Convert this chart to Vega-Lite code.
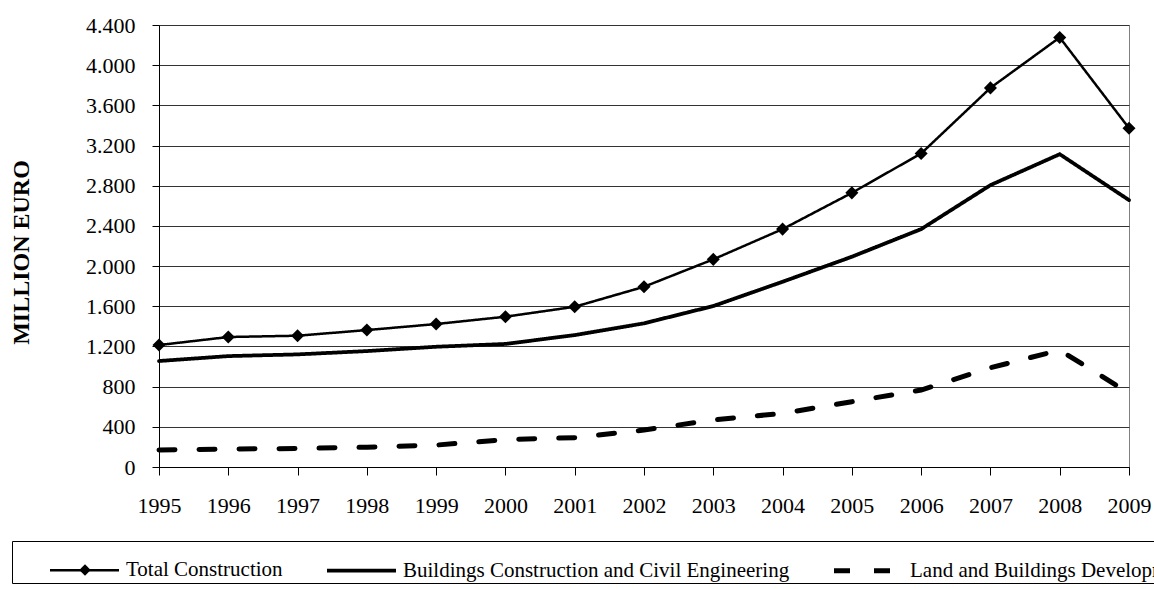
{
  "$schema": "https://vega.github.io/schema/vega-lite/v6.json",
  "width": 970,
  "height": 442,
  "autosize": "none",
  "padding": {"left": 159, "top": 25, "right": 25, "bottom": 122},
  "background": "white",
  "config": {
    "font": "Liberation Serif",
    "view": {"stroke": "#808080", "strokeWidth": 1}
  },
  "data": {
    "values": [
      {"year": "1995", "series": "Total Construction", "value": 1214},
      {"year": "1996", "series": "Total Construction", "value": 1294},
      {"year": "1997", "series": "Total Construction", "value": 1307},
      {"year": "1998", "series": "Total Construction", "value": 1363},
      {"year": "1999", "series": "Total Construction", "value": 1423},
      {"year": "2000", "series": "Total Construction", "value": 1496},
      {"year": "2001", "series": "Total Construction", "value": 1595},
      {"year": "2002", "series": "Total Construction", "value": 1794},
      {"year": "2003", "series": "Total Construction", "value": 2067},
      {"year": "2004", "series": "Total Construction", "value": 2368},
      {"year": "2005", "series": "Total Construction", "value": 2729},
      {"year": "2006", "series": "Total Construction", "value": 3121},
      {"year": "2007", "series": "Total Construction", "value": 3774},
      {"year": "2008", "series": "Total Construction", "value": 4276},
      {"year": "2009", "series": "Total Construction", "value": 3373},
      {"year": "1995", "series": "Buildings Construction and Civil Engineering", "value": 1055},
      {"year": "1996", "series": "Buildings Construction and Civil Engineering", "value": 1104},
      {"year": "1997", "series": "Buildings Construction and Civil Engineering", "value": 1121},
      {"year": "1998", "series": "Buildings Construction and Civil Engineering", "value": 1154},
      {"year": "1999", "series": "Buildings Construction and Civil Engineering", "value": 1197},
      {"year": "2000", "series": "Buildings Construction and Civil Engineering", "value": 1225},
      {"year": "2001", "series": "Buildings Construction and Civil Engineering", "value": 1313},
      {"year": "2002", "series": "Buildings Construction and Civil Engineering", "value": 1430},
      {"year": "2003", "series": "Buildings Construction and Civil Engineering", "value": 1602},
      {"year": "2004", "series": "Buildings Construction and Civil Engineering", "value": 1844},
      {"year": "2005", "series": "Buildings Construction and Civil Engineering", "value": 2093},
      {"year": "2006", "series": "Buildings Construction and Civil Engineering", "value": 2368},
      {"year": "2007", "series": "Buildings Construction and Civil Engineering", "value": 2806},
      {"year": "2008", "series": "Buildings Construction and Civil Engineering", "value": 3114},
      {"year": "2009", "series": "Buildings Construction and Civil Engineering", "value": 2657},
      {"year": "1995", "series": "Land and Buildings Development", "value": 169},
      {"year": "1996", "series": "Land and Buildings Development", "value": 179},
      {"year": "1997", "series": "Land and Buildings Development", "value": 184},
      {"year": "1998", "series": "Land and Buildings Development", "value": 197},
      {"year": "1999", "series": "Land and Buildings Development", "value": 218},
      {"year": "2000", "series": "Land and Buildings Development", "value": 273},
      {"year": "2001", "series": "Land and Buildings Development", "value": 292},
      {"year": "2002", "series": "Land and Buildings Development", "value": 368},
      {"year": "2003", "series": "Land and Buildings Development", "value": 468},
      {"year": "2004", "series": "Land and Buildings Development", "value": 534},
      {"year": "2005", "series": "Land and Buildings Development", "value": 650},
      {"year": "2006", "series": "Land and Buildings Development", "value": 766},
      {"year": "2007", "series": "Land and Buildings Development", "value": 988},
      {"year": "2008", "series": "Land and Buildings Development", "value": 1164},
      {"year": "2009", "series": "Land and Buildings Development", "value": 735}
    ]
  },
  "encoding": {
    "x": {
      "field": "year",
      "type": "ordinal",
      "scale": {"type": "point", "padding": 0},
      "axis": {
        "title": null,
        "labelAngle": 0,
        "labelFont": "Liberation Serif",
        "labelFontSize": 22,
        "labelColor": "black",
        "labelPadding": 20,
        "tickSize": 8,
        "tickColor": "black",
        "domainColor": "black",
        "grid": false
      }
    },
    "y": {
      "field": "value",
      "type": "quantitative",
      "scale": {"domain": [0, 4400], "nice": false},
      "axis": {
        "title": "MILLION EURO",
        "titleFont": "Liberation Serif",
        "titleFontSize": 24,
        "titleFontWeight": "bold",
        "titleColor": "black",
        "titleAngle": -90,
        "titleX": -138,
        "titleY": 227,
        "titleAlign": "center",
        "titleBaseline": "middle",
        "values": [0, 400, 800, 1200, 1600, 2000, 2400, 2800, 3200, 3600, 4000, 4400],
        "labelExpr": "replace(format(datum.value, ','), ',', '.')",
        "labelFont": "Liberation Serif",
        "labelFontSize": 22,
        "labelColor": "black",
        "labelPadding": 17,
        "tickSize": 7,
        "tickColor": "black",
        "domainColor": "black",
        "grid": true,
        "gridColor": "#333333",
        "gridOpacity": 1,
        "gridWidth": 1
      }
    }
  },
  "layer": [
    {
      "mark": {"type": "line", "color": "black", "strokeCap": "round", "strokeJoin": "miter"},
      "encoding": {
        "strokeDash": {
          "field": "series",
          "type": "nominal",
          "scale": {
            "domain": ["Total Construction", "Buildings Construction and Civil Engineering", "Land and Buildings Development"],
            "range": [[1, 0], [1, 0], [16, 24]]
          },
          "legend": {
            "title": null,
            "orient": "none",
            "legendX": -147,
            "legendY": 516,
            "direction": "horizontal",
            "columns": 3,
            "columnPadding": 8,
            "padding": 2,
            "strokeColor": "black",
            "symbolType": "M-1.38,0H1.38",
            "symbolSize": 2500,
            "symbolOffset": 43,
            "labelOffset": 14,
            "labelFont": "Liberation Serif",
            "labelFontSize": 21,
            "labelColor": "black",
            "labelLimit": 700
          }
        },
        "strokeWidth": {
          "field": "series",
          "type": "ordinal",
          "scale": {
            "domain": ["Total Construction", "Buildings Construction and Civil Engineering", "Land and Buildings Development"],
            "range": [2.5, 5, 5]
          },
          "legend": null
        }
      }
    },
    {
      "transform": [{"filter": "datum.series === 'Total Construction'"}],
      "mark": {"type": "point", "filled": true, "color": "black", "size": 170, "opacity": 1},
      "encoding": {
        "shape": {
          "field": "series",
          "type": "nominal",
          "scale": {"domain": ["Total Construction"], "range": ["diamond"]},
          "legend": {
            "title": null,
            "orient": "none",
            "legendX": -80,
            "legendY": 539,
            "padding": 0,
            "symbolSize": 130,
            "symbolStrokeWidth": 0,
            "symbolFillColor": "black",
            "symbolOpacity": 1,
            "labelExpr": "''",
            "labelOffset": 0
          }
        }
      }
    }
  ]
}
